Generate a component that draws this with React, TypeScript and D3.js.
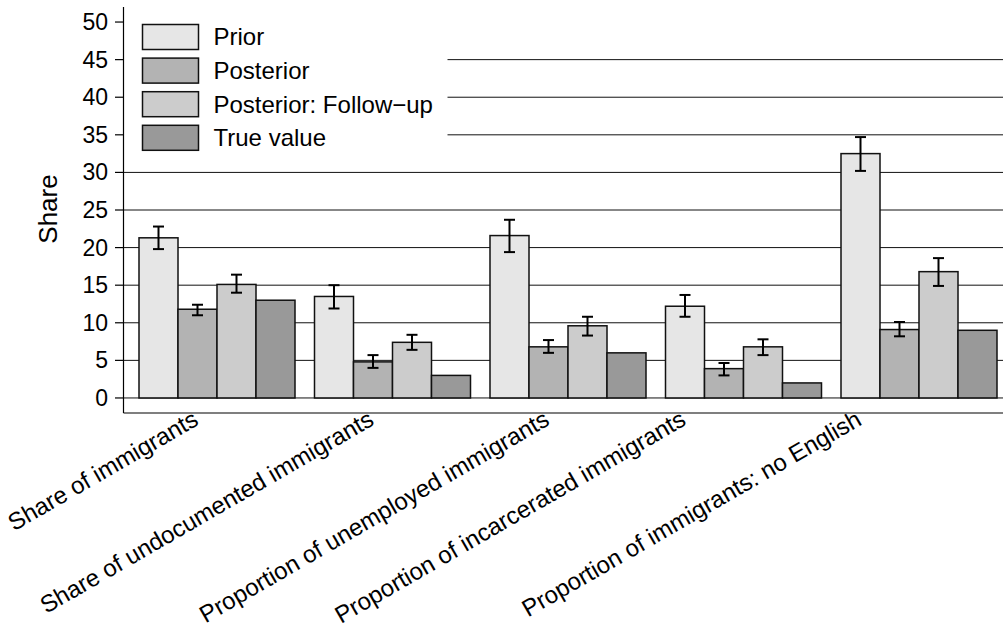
import * as d3 from "d3"

const categories = [
    "Share of immigrants",
    "Share of undocumented immigrants",
    "Proportion of unemployed immigrants",
    "Proportion of incarcerated immigrants",
    "Proportion of immigrants: no English",
]
const seriesNames = ["Prior", "Posterior", "Posterior: Follow−up", "True value"]

const prior = [21.3, 13.5, 21.6, 12.2, 32.5]
const priorLo = [19.8, 11.9, 19.4, 10.8, 30.2]
const priorHi = [22.8, 15.0, 23.7, 13.7, 34.7]
const posterior = [11.8, 4.8, 6.8, 3.9, 9.1]
const posteriorLo = [11.0, 4.0, 6.0, 3.0, 8.2]
const posteriorHi = [12.4, 5.7, 7.7, 4.65, 10.1]
const followUp = [15.1, 7.4, 9.6, 6.8, 16.8]
const followUpLo = [14.0, 6.4, 8.3, 5.7, 14.9]
const followUpHi = [16.4, 8.4, 10.8, 7.8, 18.6]
const trueValue = [13, 3, 6, 2, 9]

const yTicks = [0, 5, 10, 15, 20, 25, 30, 35, 40, 45, 50]
const gridValues = [0, 5, 10, 15, 20, 25, 30, 35, 40, 45]
// label positions in barplot units (as in the original plot)
const labelAt = [2, 6.5, 11, 14.5, 19]

const fills = ["#e6e6e6", "#b3b3b3", "#cccccc", "#999999"]
const font = "'Liberation Sans', Arial, Helvetica, sans-serif"

export default function App() {
    const width = 1003
    const height = 633
    const axisX = 123.5
    const axisBottom = 413

    const values = [prior, posterior, followUp, trueValue]
    const lows = [priorLo, posteriorLo, followUpLo, null]
    const highs = [priorHi, posteriorHi, followUpHi, null]

    const y = d3.scaleLinear().domain([-2, 52]).range([axisBottom, 7])

    const x0 = d3.scaleBand().domain(categories).range([139, 997]).paddingInner(1 / 9).paddingOuter(0)
    const x1 = d3.scaleBand().domain(seriesNames).range([0, x0.bandwidth()])
    const bw = x1.bandwidth()

    // barplot unit coordinates -> pixels
    const xUnit = d3
        .scaleLinear()
        .domain([0.5, 4.5])
        .range([x0(categories[0]), x0(categories[0]) + x0.bandwidth()])

    const capHalf = 5.5

    return (
        <svg
            width={width}
            height={height}
            style={{ position: "absolute", left: 0, top: 0, background: "#fff" }}
            fontFamily={font}
        >
            {/* grid */}
            {gridValues.map((v) => (
                <line key={v} x1={axisX} x2={width} y1={y(v)} y2={y(v)} stroke="#111" strokeWidth={1} />
            ))}

            {/* legend background */}
            <rect x={axisX + 0.5} y={8} width={447 - axisX} height={150} fill="#fff" />

            {/* bars */}
            {categories.map((c, i) => (
                <g key={c} transform={`translate(${x0(c)},0)`}>
                    {seriesNames.map((s, j) => (
                        <rect
                            key={s}
                            x={x1(s)}
                            y={y(values[j][i])}
                            width={bw}
                            height={y(0) - y(values[j][i])}
                            fill={fills[j]}
                            stroke="#111"
                            strokeWidth={1.5}
                        />
                    ))}
                    {seriesNames.map((s, j) => {
                        if (!lows[j]) return null
                        const cx = x1(s) + bw / 2
                        const lo = y(lows[j][i])
                        const hi = y(highs[j][i])
                        return (
                            <g key={s} stroke="#000" strokeWidth={2}>
                                <line x1={cx} x2={cx} y1={lo} y2={hi} />
                                <line x1={cx - capHalf} x2={cx + capHalf} y1={lo} y2={lo} />
                                <line x1={cx - capHalf} x2={cx + capHalf} y1={hi} y2={hi} />
                            </g>
                        )
                    })}
                </g>
            ))}

            {/* axes (L box) */}
            <line x1={axisX} x2={axisX} y1={7} y2={axisBottom} stroke="#000" strokeWidth={1.2} />
            <line x1={axisX} x2={width} y1={axisBottom} y2={axisBottom} stroke="#000" strokeWidth={1.2} />

            {yTicks.map((t) => (
                <g key={t}>
                    <line x1={axisX - 8.5} x2={axisX} y1={y(t)} y2={y(t)} stroke="#000" strokeWidth={1.2} />
                    <text x={108} y={y(t)} dy="0.35em" textAnchor="end" fontSize={23} fill="#000">
                        {t}
                    </text>
                </g>
            ))}

            <text
                transform={`translate(57,${209}) rotate(-90)`}
                textAnchor="middle"
                fontSize={26}
                fill="#000"
            >
                Share
            </text>

            {/* category labels */}
            {categories.map((c, i) => (
                <text
                    key={c}
                    transform={`translate(${xUnit(labelAt[i]) + 2.5},424) rotate(-30)`}
                    textAnchor="end"
                    fontSize={24}
                    fill="#000"
                >
                    {c}
                </text>
            ))}

            {/* legend */}
            {seriesNames.map((s, j) => (
                <g key={s} transform={`translate(142.5,${24.5 + j * 33.6})`}>
                    <rect width={56} height={25} fill={fills[j]} stroke="#111" strokeWidth={1.5} />
                    <text x={71} y={12.5} dy="0.35em" fontSize={24} fill="#000">
                        {s}
                    </text>
                </g>
            ))}
        </svg>
    )
}
